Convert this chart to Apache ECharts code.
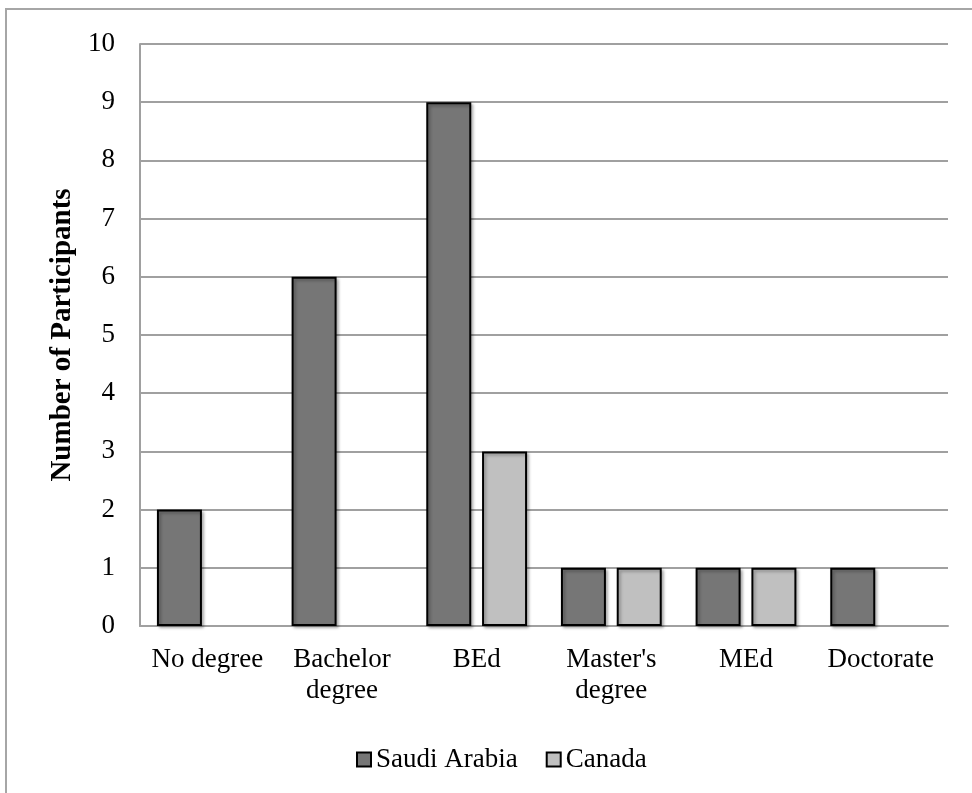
<!DOCTYPE html>
<html>
<head>
<meta charset="utf-8">
<script src="https://cdn.jsdelivr.net/npm/echarts@6/dist/echarts.min.js"></script>
<style>
html,body{margin:0;padding:0;background:#fff;}
#chart{width:972px;height:793px;}
</style>
</head>
<body>
<div id="chart"></div>
<script>
const categories = ["No degree", "Bachelor\ndegree", "BEd", "Master's\ndegree", "MEd", "Doctorate"];
const saudiArabia = [2, 6, 9, 1, 1, 1];
const canada = [null, null, 3, 1, 1, null];
const yTicks = {min: 0, max: 10, interval: 1};

const chart = echarts.init(document.getElementById('chart'), null, {renderer: 'canvas'});
const serif = '"Liberation Serif", "DejaVu Serif", serif';
const barShadow = {shadowColor: 'rgba(0,0,0,0.3)', shadowBlur: 3, shadowOffsetX: 2, shadowOffsetY: 2};
chart.setOption({
  animation: false,
  backgroundColor: '#ffffff',
  graphic: [{
    type: 'rect',
    shape: {x: 6, y: 9, width: 1200, height: 1200},
    style: {fill: 'none', stroke: '#a6a6a6', lineWidth: 2},
    silent: true,
    z: -10
  }],
  grid: {left: 140, right: 24, top: 44, bottom: 167, containLabel: false},
  legend: {
    left: 351, top: 741,
    itemWidth: 14, itemHeight: 14, itemGap: 28,
    icon: 'rect',
    textStyle: {fontFamily: serif, fontSize: 27, color: '#000'},
    data: ['Saudi Arabia', 'Canada']
  },
  xAxis: {
    type: 'category',
    data: categories,
    axisLine: {show: true, lineStyle: {color: '#a0a0a0', width: 2}},
    axisTick: {show: false},
    axisLabel: {fontFamily: serif, fontSize: 27, color: '#000', margin: 18, lineHeight: 31, interval: 0}
  },
  yAxis: {
    type: 'value',
    min: yTicks.min, max: yTicks.max, interval: yTicks.interval,
    name: 'Number of Participants',
    nameLocation: 'middle',
    nameGap: 58,
    nameTextStyle: {fontFamily: serif, fontSize: 29, fontWeight: 'bold', color: '#000'},
    axisLine: {show: true, lineStyle: {color: '#a0a0a0', width: 2}},
    axisTick: {show: false},
    splitLine: {lineStyle: {color: '#a0a0a0', width: 2}},
    axisLabel: {fontFamily: serif, fontSize: 27, color: '#000', margin: 25}
  },
  series: [
    {
      name: 'Saudi Arabia', type: 'bar', data: saudiArabia,
      barWidth: 45, barGap: '24%',
      itemStyle: Object.assign({color: '#767676', borderColor: '#000', borderWidth: 2}, barShadow)
    },
    {
      name: 'Canada', type: 'bar', data: canada,
      barWidth: 45, barGap: '24%',
      itemStyle: Object.assign({color: '#c0c0c0', borderColor: '#000', borderWidth: 2}, barShadow)
    }
  ]
});
</script>
</body>
</html>
